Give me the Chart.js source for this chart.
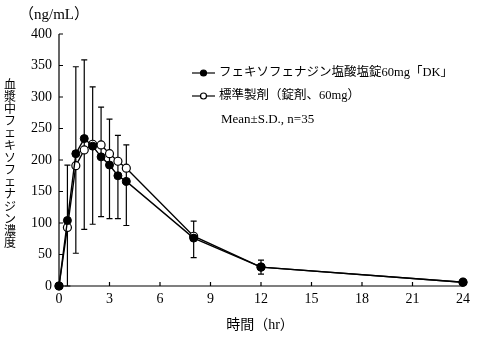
<!DOCTYPE html>
<html><head><meta charset="utf-8">
<script src="https://cdn.jsdelivr.net/npm/chart.js@4/dist/chart.umd.min.js"></script>
<style>html,body{margin:0;padding:0;background:#fff;}#wrap{width:477px;height:338px;}</style>
</head><body><div id="wrap"><canvas id="c" width="477" height="338"></canvas></div>
<script>
const timesHr = [0, 0.5, 1, 1.5, 2, 2.5, 3, 3.5, 4, 8, 12, 24];
const testMean = [0, 104, 210, 234, 222, 205, 192, 175, 166, 76, 30, 6];
const refMean = [0, 93, 191, 216, 225, 224, 210, 198, 187, 79, 30, 6];
const sdUpper = [0, 192, 348, 359, 316, 284, 265, 239, 224, 103, 41, 9];
const sdLower = [0, 0, 52, 90, 98, 110, 107, 107, 96, 45, 19, 3];
const xTicks = [0, 3, 6, 9, 12, 15, 18, 21, 24];
const yTicks = [0, 50, 100, 150, 200, 250, 300, 350, 400];
const seriesNames = ["フェキソフェナジン塩酸塩錠60mg「DK」", "標準製剤（錠剤、60mg）"];
const noteText = "Mean±S.D., n=35";
const yTitle = "血漿中フェキソフェナジン濃度";
const yUnit = "（ng/mL）";
const xTitle = "時間（hr）";

const SERIF = '"Liberation Serif", "Noto Sans CJK JP", serif';
const toXY = (vals) => timesHr.map((t, i) => ({x: t, y: vals[i]}));

const deco = {
  id: 'deco',
  beforeDatasetsDraw(chart) {
    const ctx = chart.ctx, xs = chart.scales.x, ys = chart.scales.y;
    ctx.save();
    ctx.strokeStyle = '#000'; ctx.lineWidth = 1.2;
    timesHr.forEach((t, i) => {
      if (sdUpper[i] === sdLower[i]) return;
      const px = xs.getPixelForValue(t);
      const pt = ys.getPixelForValue(sdUpper[i]);
      const pb = ys.getPixelForValue(sdLower[i]);
      ctx.beginPath();
      ctx.moveTo(px, pt); ctx.lineTo(px, pb);
      ctx.moveTo(px - 3, pt); ctx.lineTo(px + 3, pt);
      ctx.moveTo(px - 3, pb); ctx.lineTo(px + 3, pb);
      ctx.stroke();
    });
    ctx.restore();
  },
  afterDraw(chart) {
    const ctx = chart.ctx, xs = chart.scales.x, ys = chart.scales.y;
    const a = chart.chartArea;
    ctx.save();
    ctx.strokeStyle = '#000'; ctx.lineWidth = 1.2;
    ctx.beginPath();
    ctx.moveTo(a.left, ys.getPixelForValue(400)); ctx.lineTo(a.left, a.bottom);
    ctx.lineTo(a.right, a.bottom);
    ctx.stroke();
    ctx.beginPath();
    xTicks.forEach(v => { const p = xs.getPixelForValue(v); ctx.moveTo(p, a.bottom); ctx.lineTo(p, a.bottom - 4); });
    yTicks.forEach(v => { const p = ys.getPixelForValue(v); ctx.moveTo(a.left, p); ctx.lineTo(a.left + 4, p); });
    ctx.stroke();
    ctx.fillStyle = '#000';
    ctx.font = '15px ' + SERIF;
    ctx.textBaseline = 'middle'; ctx.textAlign = 'left';
    ctx.fillText(yUnit, 19, 15);
    ctx.font = '14px ' + SERIF;
    ctx.textAlign = 'center';
    ctx.fillText(xTitle, 260, 325);
    ctx.font = '12px "Noto Sans CJK JP", sans-serif';
    [...yTitle].forEach((ch, i) => ctx.fillText(ch, 10, 84 + i * 12.2));
    const rows = [{y: 73, fill: '#000'}, {y: 96, fill: '#fff'}];
    ctx.font = '12.5px ' + SERIF;
    ctx.textAlign = 'left';
    rows.forEach((r, i) => {
      ctx.beginPath(); ctx.moveTo(192, r.y); ctx.lineTo(215, r.y); ctx.stroke();
      ctx.beginPath(); ctx.arc(203.5, r.y, 3, 0, Math.PI * 2);
      ctx.fillStyle = r.fill; ctx.fill(); ctx.stroke();
      ctx.fillStyle = '#000';
      ctx.fillText(seriesNames[i], 219, r.y);
    });
    ctx.font = '13px ' + SERIF;
    ctx.fillText(noteText, 221, 120);
    ctx.restore();
  }
};

new Chart(document.getElementById('c'), {
  type: 'line',
  data: {
    datasets: [
      {label: seriesNames[0], data: toXY(testMean), borderColor: '#000', borderWidth: 1.4,
       pointRadius: 4, pointBackgroundColor: '#000', pointBorderColor: '#000', pointBorderWidth: 1, clip: false, tension: 0},
      {label: seriesNames[1], data: toXY(refMean), borderColor: '#000', borderWidth: 1.4,
       pointRadius: 4, pointBackgroundColor: '#fff', pointBorderColor: '#000', pointBorderWidth: 1.2, clip: false, tension: 0}
    ]
  },
  options: {
    responsive: false, animation: false, devicePixelRatio: 1,
    layout: {padding: {left: 0, right: 14, top: 34, bottom: 0}},
    plugins: {legend: {display: false}, tooltip: {enabled: false}},
    scales: {
      x: {type: 'linear', min: 0, max: 24,
          afterBuildTicks: s => { s.ticks = xTicks.map(v => ({value: v})); },
          afterFit: s => { s.height = 52; },
          grid: {display: false, drawTicks: false}, border: {display: false},
          ticks: {padding: 5, color: '#000', font: {family: SERIF, size: 14}, maxRotation: 0}},
      y: {min: 0, max: 400,
          afterBuildTicks: s => { s.ticks = yTicks.map(v => ({value: v})); },
          afterFit: s => { s.width = 59; },
          grid: {display: false, drawTicks: false}, border: {display: false},
          ticks: {padding: 7, color: '#000', font: {family: SERIF, size: 14}}}
    }
  },
  plugins: [deco]
});
</script></body></html>
